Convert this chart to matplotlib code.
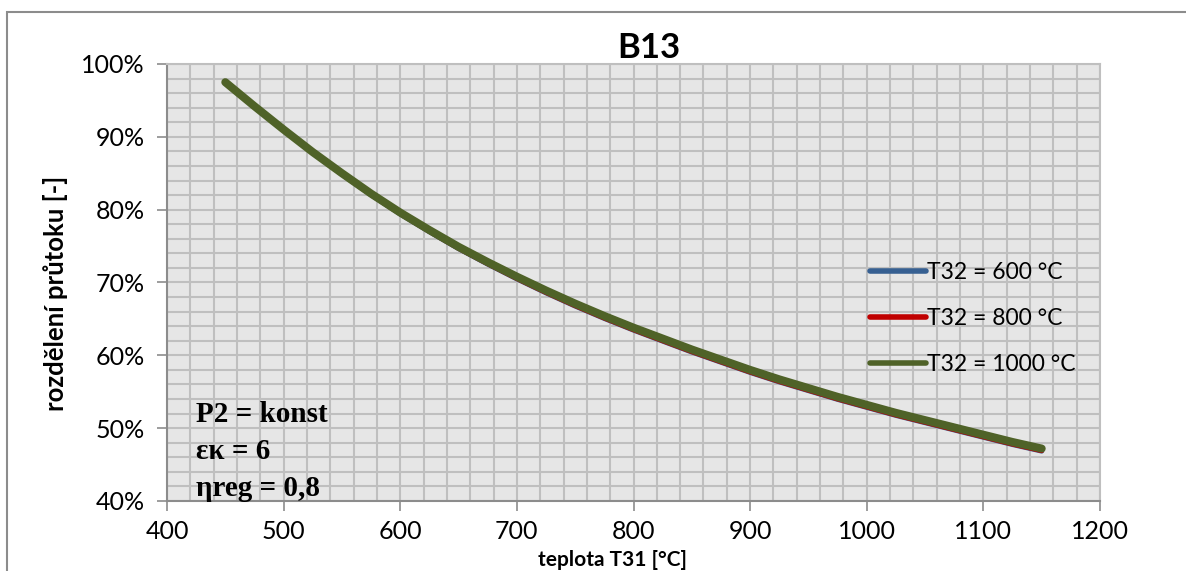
import matplotlib
matplotlib.use("Agg")
import matplotlib.pyplot as plt
from matplotlib.patches import Rectangle
from matplotlib.ticker import MultipleLocator, PercentFormatter

# data
t31 = [450, 475, 500, 525, 550, 575, 600, 625, 650, 675, 700, 725, 750, 775, 800,
       825, 850, 875, 900, 925, 950, 975, 1000, 1025, 1050, 1075, 1100, 1125, 1150]
t32_600 = [97.50, 94.17, 90.93, 87.79, 84.86, 82.03, 79.40, 76.97, 74.65, 72.52,
           70.49, 68.57, 66.76, 65.06, 63.46, 61.95, 60.45, 59.05, 57.65, 56.35,
           55.15, 53.95, 52.85, 51.75, 50.75, 49.75, 48.75, 47.75, 46.85]
t32_800 = [97.50, 94.18, 90.95, 87.82, 84.90, 82.07, 79.45, 77.02, 74.70, 72.58,
           70.55, 68.63, 66.82, 65.12, 63.52, 62.01, 60.51, 59.11, 57.71, 56.41,
           55.21, 54.01, 52.91, 51.81, 50.81, 49.81, 48.81, 47.81, 46.91]
t32_1000 = [97.5, 94.2, 91.0, 87.9, 85.0, 82.2, 79.6, 77.2, 74.9, 72.8,
            70.8, 68.9, 67.1, 65.4, 63.8, 62.3, 60.8, 59.4, 58.0, 56.7,
            55.5, 54.3, 53.2, 52.1, 51.1, 50.1, 49.1, 48.1, 47.2]
labels = ["T32 = 600 °C", "T32 = 800 °C", "T32 = 1000 °C"]
colors = ["#376092", "#c00000", "#4f6228"]

plt.rcParams['font.family'] = ['Lato', 'DejaVu Sans']

fig = plt.figure(figsize=(11.86, 5.71), dpi=100)
fig.patches.append(Rectangle((7 / 1186, -0.1), 1.2, 1 - 12 / 571 + 0.1,
                             transform=fig.transFigure, fill=False,
                             edgecolor="#8c8c8c", linewidth=1.5))
ax = fig.add_axes([167 / 1186, 1 - 501 / 571, (1100 - 167) / 1186, (501 - 64) / 571])
ax.set_facecolor("#e6e6e6")

ax.plot(t31, t32_600, color=colors[0], linewidth=3.6, label=labels[0], solid_capstyle="round")
ax.plot(t31, t32_800, color=colors[1], linewidth=3.6, label=labels[1], solid_capstyle="round")
ax.plot(t31, t32_1000, color=colors[2], linewidth=5.8, label=labels[2], solid_capstyle="round")

ax.set_xlim(400, 1200)
ax.set_ylim(40, 100)
ax.xaxis.set_major_locator(MultipleLocator(100))
ax.xaxis.set_minor_locator(MultipleLocator(20))
ax.yaxis.set_major_locator(MultipleLocator(10))
ax.yaxis.set_minor_locator(MultipleLocator(2))
ax.yaxis.set_major_formatter(PercentFormatter(decimals=0))
ax.grid(True, which="both", color="#bfbfbf", linewidth=1.5)
ax.set_axisbelow(True)
ax.tick_params(which="major", direction="out", length=7, width=1.2, color="#8c8c8c",
               labelsize=18, pad=9)
ax.tick_params(axis="x", which="major", pad=7)
ax.tick_params(which="minor", length=0)
for s in ax.spines.values():
    s.set_color("#bfbfbf")
    s.set_linewidth(1.5)
ax.spines["left"].set_color("#8c8c8c")
ax.spines["bottom"].set_color("#8c8c8c")

ax.set_title("B13", fontsize=25, fontweight="bold", pad=-4, x=0.5166)
ax.set_xlabel("teplota T31 [°C]", fontsize=15, fontweight="bold")
ax.xaxis.set_label_coords(0.477, -0.112)
ax.set_ylabel("rozdělení průtoku [-]", fontsize=18.5, fontweight="bold")
ax.yaxis.set_label_coords(-0.106, 0.474)

leg = ax.legend(loc="upper left", bbox_to_anchor=(0.731, 0.593), frameon=False,
                fontsize=16.5, handlelength=2.45, handletextpad=0.05, labelspacing=1.09)
for h in leg.get_lines():
    h.set_linewidth(4)

for i, txt in enumerate(["P2 = konst", "εκ = 6", "ηreg = 0,8"]):
    ax.text(0.031, 0.198 - i * 0.085, txt, transform=ax.transAxes,
            fontsize=21, fontweight="bold", family=["Liberation Serif", "DejaVu Serif"],
            va="center", ha="left")

fig.savefig("out.png", dpi=100)
